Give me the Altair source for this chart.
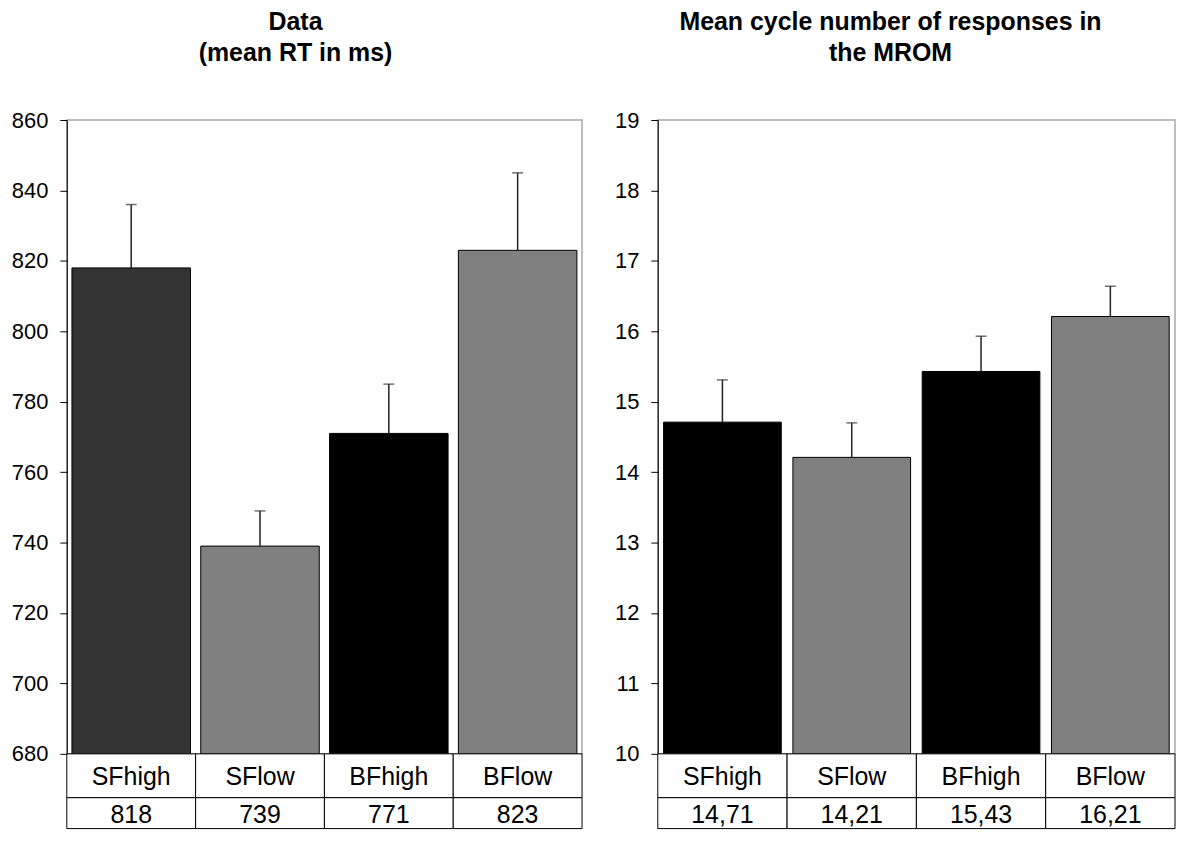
import altair as alt
import pandas as pd

FONT = "Liberation Sans"

categories = ["SFhigh", "SFlow", "BFhigh", "BFlow"]

rt_means = [818, 739, 771, 823]
rt_upper = [836, 749, 785, 845]
rt_labels = ["818", "739", "771", "823"]
rt_colors = ["#333333", "#808080", "#000000", "#808080"]
rt_ticks = [680, 700, 720, 740, 760, 780, 800, 820, 840, 860]
rt_domain = [680, 860]
rt_title = ["Data", "(mean RT in ms)"]

cyc_means = [14.71, 14.21, 15.43, 16.21]
cyc_upper = [15.31, 14.70, 15.93, 16.64]
cyc_labels = ["14,71", "14,21", "15,43", "16,21"]
cyc_colors = ["#000000", "#808080", "#000000", "#808080"]
cyc_ticks = [10, 11, 12, 13, 14, 15, 16, 17, 18, 19]
cyc_domain = [10, 19]
cyc_title = ["Mean cycle number of responses in", "the MROM"]


def panel(title_lines, means, upper, labels, colors, domain, ticks,
          width, extent, pad_inner, title_dx):
    df = pd.DataFrame({
        "cat": categories,
        "mean": means,
        "upper": upper,
        "base": [domain[0]] * len(categories),
        "label": labels,
        "color": colors,
    })
    base = alt.Chart(df)
    xb = alt.X("cat:N", sort=categories, axis=None,
               scale=alt.Scale(paddingInner=pad_inner, paddingOuter=pad_inner / 2))
    y_axis = alt.Axis(values=ticks, format="d", grid=False, domain=True,
                      domainColor="black", domainWidth=1, tickColor="black",
                      tickSize=7, tickWidth=1, labelFont=FONT, labelFontSize=22,
                      labelColor="black", labelPadding=12, minExtent=extent,
                      maxExtent=extent, title=None, labelFlush=False)
    yscale = alt.Scale(domain=domain, nice=False, zero=False)
    bars = base.mark_bar(stroke="black", strokeWidth=1).encode(
        x=xb,
        y=alt.Y("mean:Q", scale=yscale, axis=y_axis),
        y2="base:Q",
        color=alt.Color("color:N", scale=None),
    )
    err = base.mark_rule(color="#222222", strokeWidth=1.5).encode(
        x=xb, y="mean:Q", y2="upper:Q")
    cap = base.mark_tick(color="#333333", thickness=1.5, size=11,
                         orient="horizontal").encode(x=xb, y="upper:Q")
    plot = alt.layer(bars, err, cap).properties(
        width=width, height=636,
        view=alt.ViewBackground(stroke="#a8a8a8", strokeWidth=1.5),
    )

    xt = alt.X("cat:N", sort=categories, axis=None,
               scale=alt.Scale(paddingInner=0, paddingOuter=0))

    def row(field, h, dy):
        cells = base.mark_rect(fill="white", stroke="black", strokeWidth=1).encode(x=xt)
        txt = base.mark_text(font=FONT, fontSize=25, color="black",
                             baseline="middle", dy=dy).encode(x=xt, text=f"{field}:N")
        return alt.layer(cells, txt).properties(width=width, height=h)

    table1 = row("cat", 44, 1)
    table2 = row("label", 31, 2)

    return alt.vconcat(plot, table1, table2, spacing=0, bounds="flush").resolve_scale(
        x="independent"
    ).properties(
        title=alt.TitleParams(text=title_lines, font=FONT, fontSize=25,
                              fontWeight="bold", color="black", lineHeight=32,
                              anchor="middle", frame="bounds", offset=42,
                              dx=title_dx)
    )


left = panel(rt_title, rt_means, rt_upper, rt_labels, rt_colors, rt_domain,
             rt_ticks, 517, 58, 0.08, 0)
right = panel(cyc_title, cyc_means, cyc_upper, cyc_labels, cyc_colors,
              cyc_domain, cyc_ticks, 519, 44, 0.09, -4)

chart = alt.hconcat(left, right, spacing=30).resolve_scale(
    x="independent", y="independent"
).properties(padding=0).configure_view(stroke=None)

chart.save("out.html", embed_options={"renderer": "svg", "actions": False})
